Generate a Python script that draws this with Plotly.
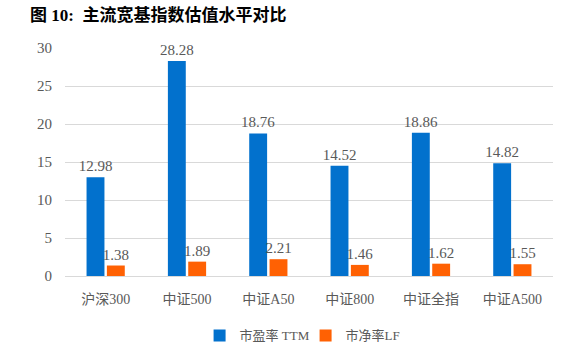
import plotly.graph_objects as go

categories = ["沪深300", "中证500", "中证A50", "中证800", "中证全指", "中证A500"]
pe_ttm = [12.98, 28.28, 18.76, 14.52, 18.86, 14.82]
pb_lf = [1.38, 1.89, 2.21, 1.46, 1.62, 1.55]
y_ticks = [0, 5, 10, 15, 20, 25, 30]

FONT = "Liberation Serif, Noto Sans CJK SC, serif"
GREY = "#595959"

fig = go.Figure()
fig.add_trace(go.Bar(
    x=categories, y=pe_ttm, name="市盈率 TTM",
    marker=dict(color="#0271CD"),
    text=[f"{v:.2f}" for v in pe_ttm], textposition="outside", constraintext="none",
    textfont=dict(family=FONT, size=15, color=GREY), cliponaxis=False,
))
fig.add_trace(go.Bar(
    x=categories, y=pb_lf, name="市净率LF",
    marker=dict(color="#FF6103"),
    text=[f"{v:.2f}" for v in pb_lf], textposition="outside", constraintext="none",
    textfont=dict(family=FONT, size=15, color=GREY), cliponaxis=False,
))

fig.update_layout(
    template="none",
    width=579, height=356,
    margin=dict(l=65, r=26, t=48, b=80, autoexpand=False),
    paper_bgcolor="white", plot_bgcolor="white",
    barmode="group", bargap=0.5, bargroupgap=0.12,
    font=dict(family=FONT, color=GREY, size=14),
    showlegend=True,
    legend=dict(orientation="h", x=0.493, xanchor="center", y=-0.195, yanchor="top",
                font=dict(family=FONT, size=13, color=GREY),
                itemwidth=30, entrywidth=61, traceorder="normal", bgcolor="rgba(0,0,0,0)"),
    title=dict(
        text="<b>图 10:  主流宽基指数估值水平对比</b>",
        x=30 / 579, xanchor="left", xref="container",
        y=1 - 15 / 356, yanchor="middle", yref="container",
        pad=dict(t=0, b=0, l=0, r=0),
        font=dict(family=FONT, size=17, color="black"),
    ),
)
fig.update_xaxes(showline=True, linecolor="#D9D9D9", linewidth=1, ticks="",
                 showgrid=False, zeroline=False, automargin=False, ticklabelstandoff=10,
                 tickfont=dict(family=FONT, size=14, color=GREY))
fig.update_yaxes(range=[0, 30], tickvals=y_ticks, showgrid=True, gridcolor="#D9D9D9",
                 gridwidth=1, zeroline=False, showline=False, ticks="", ticklabelstandoff=12,
                 automargin=False,
                 tickfont=dict(family=FONT, size=15, color=GREY))

fig.write_html(
    "out.html",
    config={"displayModeBar": False},
    post_script="document.body.style.margin='0';document.body.style.overflow='hidden';",
)
